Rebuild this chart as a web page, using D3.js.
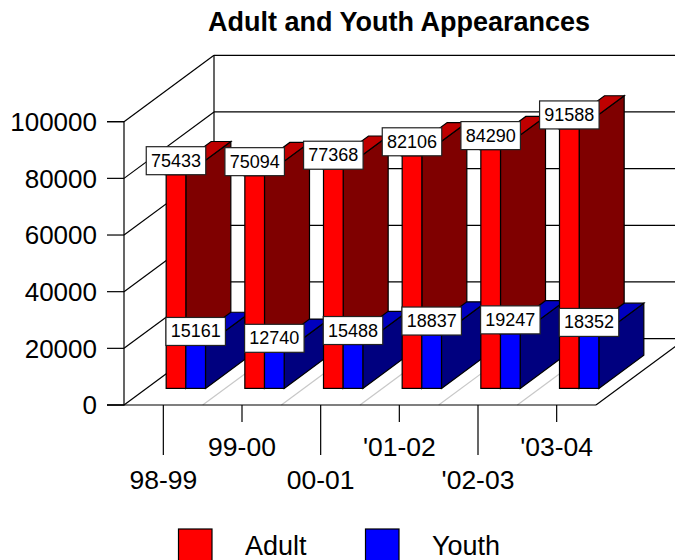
<!DOCTYPE html>
<html>
<head>
<meta charset="utf-8">
<script src="https://cdn.jsdelivr.net/npm/d3@7/dist/d3.min.js"></script>
<style>
  html, body { margin: 0; padding: 0; background: #fff; overflow: hidden; }
  svg { display: block; font-family: "Liberation Sans", Arial, sans-serif; }
  text { fill: #000; }
</style>
</head>
<body>
<svg id="chart" width="675" height="560"></svg>
<script>
const seasons = ["98-99", "99-00", "00-01", "'01-02", "'02-03", "'03-04"];
const adultValues = [75433, 75094, 77368, 82106, 84290, 91588];
const youthValues = [15161, 12740, 15488, 18837, 19247, 18352];
const yTicks = [0, 20000, 40000, 60000, 80000, 100000];
const seriesNames = ["Adult", "Youth"];
const seriesFront = ["#ff0000", "#0000ff"];
const seriesSide = ["#7f0000", "#00007f"];
const seriesTop = ["#bf0000", "#0000bf"];

const svg = d3.select("#chart");

// Oblique projection: the floor runs back by this offset.
const depthX = 90, depthY = -66.4;
const barDepth = 0.5;   // bars occupy the middle half of the floor depth
const lineW = 1.2;

const x = d3.scaleBand().domain(seasons).range([124, 596]).paddingInner(0).paddingOuter(0);
const y = d3.scaleLinear().domain([0, 100000]).range([405, 121.7]);
const xSeries = d3.scaleBand().domain(seriesNames)
  .range([x.bandwidth() * 0.25, x.bandwidth() * 0.75]);

const wallRight = 596 + depthX;
const walls = svg.append("g").attr("fill", "none").attr("stroke-width", lineW);

// Back wall, side wall and horizontal grid
yTicks.forEach(v => {
  const yy = y(v);
  walls.append("line").attr("x1", x.range()[0]).attr("y1", yy)
    .attr("x2", x.range()[0] + depthX).attr("y2", yy + depthY).attr("stroke", "#000");
  walls.append("line").attr("x1", x.range()[0] + depthX).attr("y1", yy + depthY)
    .attr("x2", wallRight).attr("y2", yy + depthY).attr("stroke", "#000");
});
walls.append("line").attr("x1", 214).attr("y1", y(100000) + depthY)
  .attr("x2", 214).attr("y2", y(0) + depthY).attr("stroke", "#000");

// Floor divisions between the seasons
d3.range(1, seasons.length).forEach(i => {
  const fx = x.range()[0] + i * x.step();
  walls.append("line").attr("x1", fx).attr("y1", y(0))
    .attr("x2", fx + depthX).attr("y2", y(0) + depthY).attr("stroke", "#c8c8c8");
});
walls.append("line").attr("x1", 596).attr("y1", y(0))
  .attr("x2", wallRight).attr("y2", y(0) + depthY).attr("stroke", "#000");

// Value axis
const yAxis = d3.axisLeft(y).tickValues(yTicks).tickFormat(d3.format("d"))
  .tickSize(17).tickPadding(10).offset(0);
const yG = svg.append("g").attr("transform", "translate(124,0)").call(yAxis);
yG.select(".domain").attr("stroke", "#000").attr("stroke-width", lineW);
yG.selectAll("text").attr("font-size", 26).attr("font-family", "inherit").attr("y", 1);
yG.selectAll("line").attr("stroke", "#000").attr("stroke-width", lineW);

// Category axis with staggered ticks and labels
const xAxis = d3.axisBottom(x).tickSize(0).tickPadding(0).offset(0);
const xG = svg.append("g").attr("transform", `translate(0,${y(0)})`).call(xAxis);
xG.select(".domain").remove();
xG.selectAll(".tick line").attr("stroke", "#000").attr("stroke-width", lineW)
  .attr("y2", (d, i) => i % 2 === 0 ? 50 : 17);
xG.selectAll(".tick text").attr("font-size", 26.5).attr("font-family", "inherit")
  .attr("dy", null).attr("y", (d, i) => i % 2 === 0 ? 84 : 51);
svg.append("line").attr("x1", 107).attr("y1", y(0)).attr("x2", 596).attr("y2", y(0))
  .attr("stroke", "#000").attr("stroke-width", lineW);

// Point on a bar front pushed back by the bar's depth
const dx = depthX * barDepth, dy = depthY * barDepth;
const frontX = depthX * (1 - barDepth) / 2, frontY = depthY * (1 - barDepth) / 2;
const poly = pts => pts.map(p => p.join(",")).join(" ");

const seriesValues = [adultValues, youthValues];
const bars = svg.append("g").attr("stroke", "#000").attr("stroke-width", lineW);
const labelsData = [];

seasons.forEach((season, c) => {
  seriesNames.forEach((name, s) => {
    const v = seriesValues[s][c];
    const x0 = x(season) + xSeries(name) + frontX;
    const x1 = x0 + xSeries.bandwidth();
    const yBase = y(0) + frontY;
    const yTop = y(v) + frontY;
    bars.append("polygon").attr("fill", seriesSide[s])
      .attr("points", poly([[x1, yBase], [x1 + dx, yBase + dy], [x1 + dx, yTop + dy], [x1, yTop]]));
    bars.append("polygon").attr("fill", seriesTop[s])
      .attr("points", poly([[x0, yTop], [x1, yTop], [x1 + dx, yTop + dy], [x0 + dx, yTop + dy]]));
    bars.append("rect").attr("fill", seriesFront[s])
      .attr("x", x0).attr("y", yTop).attr("width", x1 - x0).attr("height", yBase - yTop);
    labelsData.push({ v, cx: (x0 + x1) / 2, yTop });
  });
});

// Value labels sit on the top front edge of each bar
const labelW = 59.5, labelH = 28;
const labels = svg.append("g").selectAll("g").data(labelsData).join("g")
  .attr("transform", d => `translate(${d.cx},${d.yTop})`);
labels.append("rect").attr("x", -labelW / 2).attr("y", -labelH)
  .attr("width", labelW).attr("height", labelH)
  .attr("fill", "#fff").attr("stroke", "#222").attr("stroke-width", lineW);
labels.append("text").attr("text-anchor", "middle").attr("y", -8)
  .attr("font-size", 18).text(d => d.v);

// Title
svg.append("text").attr("x", 399).attr("y", 31).attr("text-anchor", "middle")
  .attr("font-size", 27).attr("font-weight", "bold").text("Adult and Youth Appearances");

// Legend
const legendX = d3.scaleOrdinal().domain(seriesNames).range([178.5, 365.5]);
const legend = svg.append("g").selectAll("g").data(seriesNames).join("g")
  .attr("transform", d => `translate(${legendX(d)},529)`);
legend.append("rect").attr("width", 33.5).attr("height", 34)
  .attr("fill", (d, i) => seriesFront[i]).attr("stroke", "#000").attr("stroke-width", lineW);
legend.append("text").attr("x", 66.5).attr("y", 26)
  .attr("font-size", 27).text(d => d);
</script>
</body>
</html>
